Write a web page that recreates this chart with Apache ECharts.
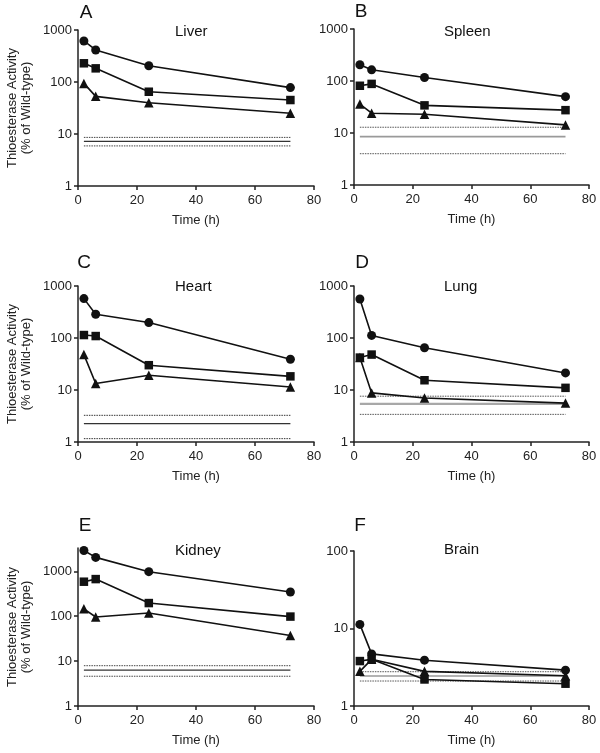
<!DOCTYPE html>
<html>
<head>
<meta charset="utf-8">
<script src="https://cdn.jsdelivr.net/npm/echarts@6/dist/echarts.min.js"></script>
<style>html,body{margin:0;padding:0;background:#fff;}#c{width:600px;height:753px;}</style>
</head>
<body>
<div id="c"></div>
<script>
// ---- data ----
const times = [2, 6, 24, 72];
const refTimes = [2, 72];
const xTicks = [0, 20, 40, 60, 80];
const panelLetters = ['A', 'B', 'C', 'D', 'E', 'F'];
const panelTitles = ['Liver', 'Spleen', 'Heart', 'Lung', 'Kidney', 'Brain'];

const liverCircle = [615, 413, 205, 78];
const liverSquare = [229, 183, 65, 45];
const liverTriangle = [94, 53, 40, 25];
const liverRef = [8.6, 7.2, 5.9];

const spleenCircle = [205, 164, 117, 50];
const spleenSquare = [81, 88, 34, 27.5];
const spleenTriangle = [36, 24, 23, 14.3];
const spleenRef = [12.9, 8.5, 4.0];

const heartCircle = [572, 286, 198, 39];
const heartSquare = [114, 109, 30, 18.3];
const heartTriangle = [48, 13.3, 19.2, 11.4];
const heartRef = [3.26, 2.26, 1.16];

const lungCircle = [561, 112, 65, 21.3];
const lungSquare = [42, 48, 15.4, 11];
const lungTriangle = [42, 8.8, 7, 5.6];
const lungRef = [7.6, 5.4, 3.4];

const kidneyCircle = [2900, 2040, 980, 345];
const kidneySquare = [586, 670, 196, 98];
const kidneyTriangle = [146, 96, 118, 37];
const kidneyRef = [7.9, 6.3, 4.6];

const brainCircle = [11.3, 4.7, 3.9, 2.9];
const brainSquare = [3.8, 4.0, 2.2, 1.94];
const brainTriangle = [2.8, 4.0, 2.8, 2.46];
const brainRef = [2.77, 2.44, 2.1];

const yRanges = [[1, 1000], [1, 1000], [1, 1000], [1, 1000], [1, 3300], [1, 100]];
const yAxisTitle = 'Thioesterase Activity\n(% of Wild-type)';
const xAxisTitle = 'Time (h)';

// ---- layout ----
const FONT = '"Liberation Sans", Arial, Helvetica, sans-serif';
const grids = [
  {left: 78, top: 30, width: 236, height: 156},
  {left: 354, top: 29, width: 235, height: 156},
  {left: 78, top: 286, width: 236, height: 156},
  {left: 354, top: 286, width: 235, height: 156},
  {left: 78, top: 548, width: 236, height: 158},
  {left: 354, top: 551, width: 235, height: 155}
];
const refStyles = [
  {dot: '#444', solid: '#333', sw: 1.3},
  {dot: '#555', solid: '#9a9a9a', sw: 1.6},
  {dot: '#333', solid: '#333', sw: 1.2},
  {dot: '#555', solid: '#a8a8a8', sw: 2.4},
  {dot: '#444', solid: '#333', sw: 1.2},
  {dot: '#555', solid: '#9a9a9a', sw: 1.6}
];
const panelData = [
  [liverCircle, liverSquare, liverTriangle, liverRef],
  [spleenCircle, spleenSquare, spleenTriangle, spleenRef],
  [heartCircle, heartSquare, heartTriangle, heartRef],
  [lungCircle, lungSquare, lungTriangle, lungRef],
  [kidneyCircle, kidneySquare, kidneyTriangle, kidneyRef],
  [brainCircle, brainSquare, brainTriangle, brainRef]
];

const option = {
  animation: false,
  backgroundColor: '#fff',
  textStyle: {fontFamily: FONT},
  grid: grids.map(g => Object.assign({containLabel: false}, g)),
  xAxis: grids.map((g, i) => ({
    gridIndex: i, type: 'value', min: xTicks[0], max: xTicks[xTicks.length - 1], interval: 20,
    name: xAxisTitle, nameLocation: 'middle', nameGap: 28,
    nameTextStyle: {fontSize: 13, color: '#222', fontFamily: FONT},
    axisLine: {show: true, onZero: false, lineStyle: {color: '#222', width: 1.5}},
    axisTick: {show: true, length: 4, lineStyle: {color: '#222', width: 1.5}},
    axisLabel: {fontSize: 13, color: '#222', margin: 8, fontFamily: FONT},
    splitLine: {show: false}
  })),
  yAxis: grids.map((g, i) => ({
    gridIndex: i, type: 'log', logBase: 10, min: yRanges[i][0], max: yRanges[i][1],
    axisLine: {show: true, onZero: false, lineStyle: {color: '#222', width: 1.5}},
    axisTick: {show: true, length: 4, lineStyle: {color: '#222', width: 1.5}},
    axisLabel: {fontSize: 13, color: '#222', margin: 6, fontFamily: FONT, showMaxLabel: i !== 4,
      formatter: v => { const l = Math.log10(v); return Math.abs(l - Math.round(l)) < 1e-6 ? String(Math.round(v)) : ''; }},
    minorTick: {show: false},
    splitLine: {show: false}
  })),
  graphic: [],
  series: []
};

const markerDefs = [
  {symbol: 'circle', size: 9},
  {symbol: 'rect', size: 8.5},
  {symbol: 'triangle', size: 9.5}
];

panelData.forEach((pd, i) => {
  const ref = pd[3];
  const st = refStyles[i];
  ref.forEach((v, k) => {
    option.series.push({
      type: 'line', xAxisIndex: i, yAxisIndex: i, silent: true, z: 1,
      data: refTimes.map(t => [t, v]), symbol: 'none',
      lineStyle: k === 1 ? {color: st.solid, width: st.sw, type: 'solid'} : {color: st.dot, width: 1, type: [1.5, 1]}
    });
  });
  for (let s = 0; s < 3; s++) {
    option.series.push({
      type: 'line', xAxisIndex: i, yAxisIndex: i, z: 3 + s,
      data: times.map((t, j) => [t, pd[s][j]]),
      symbol: markerDefs[s].symbol, symbolSize: markerDefs[s].size,
      itemStyle: {color: '#111'},
      lineStyle: {color: '#111', width: 1.6}
    });
  }
});

const letterPos = [[86, 13], [361, 12], [84, 263], [362, 263], [85, 526], [360, 526]];
const titlePos = [[175, 32], [444, 32], [175, 287], [444, 287], [175, 551], [444, 550]];
panelLetters.forEach((L, i) => {
  option.graphic.push({type: 'text', x: letterPos[i][0], y: letterPos[i][1],
    style: {text: L, fontSize: 19, fill: '#111', fontFamily: FONT, textAlign: 'center', textVerticalAlign: 'middle'}});
  option.graphic.push({type: 'text', x: titlePos[i][0], y: titlePos[i][1],
    style: {text: panelTitles[i], fontSize: 15, fill: '#111', fontFamily: FONT, textAlign: 'left', textVerticalAlign: 'middle'}});
});
[0, 2, 4].forEach(i => {
  const g = grids[i];
  option.graphic.push({type: 'text', x: 19, y: g.top + g.height / 2, rotation: Math.PI / 2,
    style: {text: yAxisTitle, fontSize: 13, lineHeight: 14, fill: '#222', fontFamily: FONT, textAlign: 'center', textVerticalAlign: 'middle'}});
});

const chart = echarts.init(document.getElementById('c'), null, {renderer: 'canvas'});
chart.setOption(option);
</script>
</body>
</html>
